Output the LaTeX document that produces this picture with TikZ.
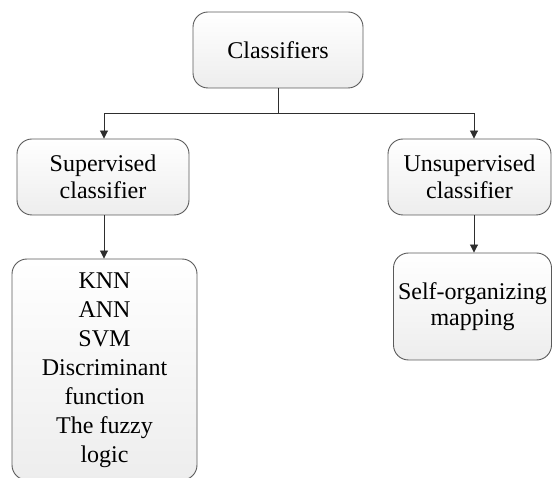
\documentclass[tikz,border=0pt]{standalone}
\usepackage{fontspec}
\setmainfont{Liberation Serif}
\usetikzlibrary{arrows.meta}
\definecolor{edgegray}{HTML}{5A5A5A}
\definecolor{arrowgray}{HTML}{2E2E2E}
\tikzset{
  x=1pt, y=-1pt,
  box/.style={draw=edgegray, line width=0.9pt, rounded corners=15pt,
    top color=white, bottom color=black!7, align=center,
    font=\fontsize{24}{26.5}\selectfont, inner sep=0pt},
  boxtext/.style={align=center, font=\fontsize{24}{29}\selectfont, inner sep=0pt},
  arr/.style={draw=arrowgray, line width=0.9pt,
    -{Triangle[width=8pt,length=8pt]}}
}
\begin{document}
\begin{tikzpicture}
\useasboundingbox (0,0) rectangle (552,478);
\begin{scope}
\clip (0,0) rectangle (552,478);
% tree of classifier families
\node[box, minimum width=170pt, minimum height=76pt] (cls) at (278,50) {Classifiers};
\node[box, minimum width=172pt, minimum height=76pt] (sup) at (103,177) {Supervised\\classifier};
\node[box, minimum width=163pt, minimum height=76pt] (uns) at (469.5,177) {Unsupervised\\classifier};
\node[box, minimum width=185pt, minimum height=221pt] (knn) at (104.5,369.5) {};
\node[boxtext] (knnlist) at (104.5,370)
  {KNN\\ANN\\SVM\\Discriminant\\function\\The fuzzy\\logic};
\node[box, minimum width=158pt, minimum height=107pt] (som) at (472.5,306.5)
  {Self-organizing\\mapping};
% connectors
\coordinate (split) at (278,113);
\coordinate (leftcol) at (104,113);
\coordinate (rightcol) at (474,113);
\draw[arr] (cls.south) -- (split) -- (leftcol) -- (leftcol |- sup.north);
\draw[arr] (split) -- (rightcol) -- (rightcol |- uns.north);
\draw[arr] (leftcol |- sup.south) -- (leftcol |- knn.north);
\draw[arr] (rightcol |- uns.south) -- (rightcol |- som.north);
\end{scope}
\end{tikzpicture}
\end{document}
